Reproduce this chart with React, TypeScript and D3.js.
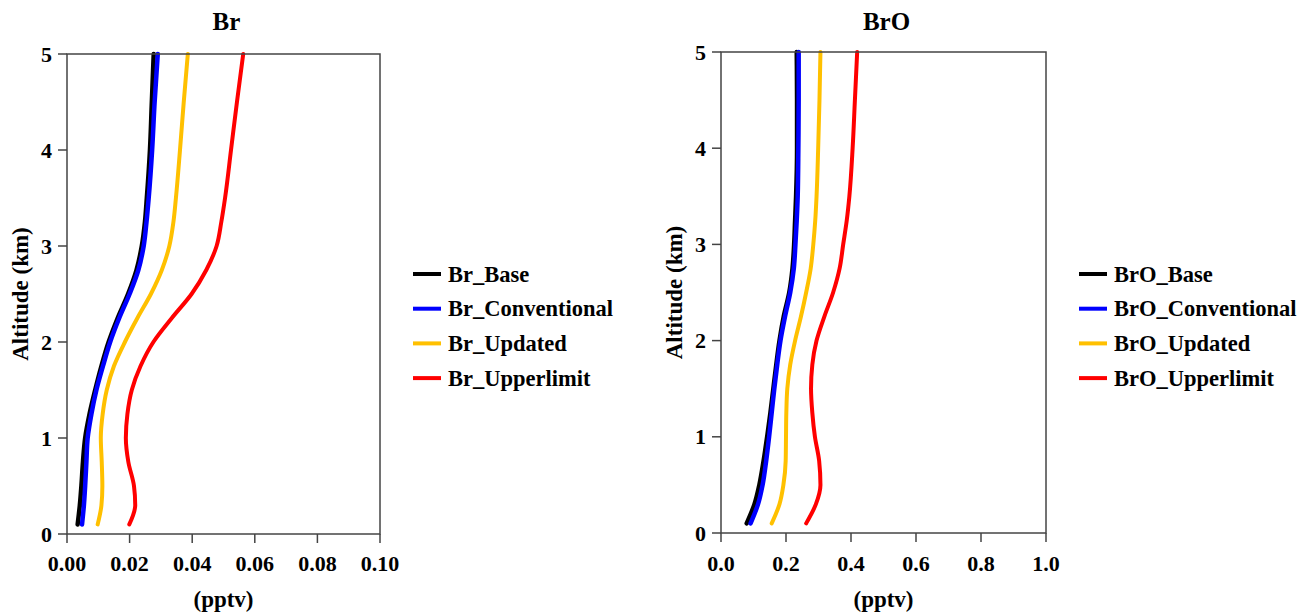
import React from 'react';
import * as d3 from 'd3';

// altitude grid (km) shared by all profiles
const altitude = [0.1, 0.3, 0.5, 0.75, 1.0, 1.25, 1.5, 1.75, 2.0, 2.25, 2.5, 2.75, 3.0, 3.25, 3.5, 4.0, 4.5, 5.0];

// Br (pptv)
const brBase = [0.0034, 0.0041, 0.0046, 0.0051, 0.0058, 0.0072, 0.009, 0.011, 0.0133, 0.0162, 0.0195, 0.0222, 0.0239, 0.0249, 0.0255, 0.0265, 0.0271, 0.0277];
const brConventional = [0.0048, 0.0054, 0.0058, 0.0062, 0.0066, 0.0078, 0.0094, 0.0115, 0.0138, 0.0167, 0.02, 0.0228, 0.0245, 0.0254, 0.0261, 0.0272, 0.028, 0.029];
const brUpdated = [0.0098, 0.011, 0.0113, 0.0111, 0.0108, 0.0114, 0.0127, 0.015, 0.0185, 0.0225, 0.0268, 0.0303, 0.0327, 0.034, 0.0348, 0.0361, 0.0373, 0.0386];
const brUpperlimit = [0.0199, 0.0218, 0.0214, 0.0196, 0.0188, 0.0193, 0.0207, 0.0235, 0.0276, 0.0335, 0.0398, 0.0445, 0.0478, 0.0493, 0.0505, 0.0524, 0.0543, 0.0563];

// BrO (pptv)
const broBase = [0.079, 0.103, 0.118, 0.131, 0.142, 0.152, 0.161, 0.17, 0.18, 0.193, 0.21, 0.22, 0.225, 0.228, 0.231, 0.234, 0.234, 0.233];
const broConventional = [0.091, 0.114, 0.128, 0.139, 0.148, 0.156, 0.164, 0.173, 0.183, 0.197, 0.213, 0.224, 0.229, 0.233, 0.236, 0.238, 0.239, 0.239];
const broUpdated = [0.156, 0.18, 0.192, 0.199, 0.2, 0.201, 0.204, 0.213, 0.228, 0.246, 0.262, 0.276, 0.284, 0.29, 0.294, 0.299, 0.303, 0.306];
const broUpperlimit = [0.262, 0.292, 0.306, 0.302, 0.289, 0.281, 0.277, 0.281, 0.294, 0.318, 0.345, 0.365, 0.376, 0.387, 0.395, 0.405, 0.412, 0.419];

const brTicks = [0, 0.02, 0.04, 0.06, 0.08, 0.1];
const broTicks = [0, 0.2, 0.4, 0.6, 0.8, 1.0];
const altTicks = [0, 1, 2, 3, 4, 5];

const seriesStyle = [
  { suffix: '_Base', color: '#000000', width: 4.5 },
  { suffix: '_Conventional', color: '#0000ff', width: 4.5 },
  { suffix: '_Updated', color: '#ffc000', width: 4 },
  { suffix: '_Upperlimit', color: '#ff0000', width: 4 },
];

const FONT = '"Liberation Serif", "Times New Roman", serif';
const AXIS = '#444';

const Panel = ({ title, values, xMax, ticks, fmt, left, right, top, bottom, legendX }) => {
  const x = d3.scaleLinear().domain([0, xMax]).range([left, right]);
  const y = d3.scaleLinear().domain([0, 5]).range([bottom, top]);
  const line = d3.line<number>()
    .x(d => x(d))
    .y((d, i) => y(altitude[i]))
    .curve(d3.curveMonotoneY);
  const cx = (left + right) / 2;
  const cy = (top + bottom) / 2;

  return (
    <g fontFamily={FONT} fontWeight="bold" fill="#000">
      <text x={cx + 3} y={30} fontSize={25} textAnchor="middle">{title}</text>

      {values.map((v, i) => (
        <path key={i} d={line(v)} fill="none" stroke={seriesStyle[i].color}
          strokeWidth={seriesStyle[i].width} strokeLinecap="round" />
      ))}

      <rect x={left} y={top} width={right - left} height={bottom - top}
        fill="none" stroke={AXIS} strokeWidth={1.5} />

      {ticks.map(t => (
        <g key={t}>
          <line x1={x(t)} x2={x(t)} y1={bottom} y2={bottom + 9} stroke={AXIS} strokeWidth={1.5} />
          <text x={x(t)} y={571} fontSize={22} textAnchor="middle">{fmt(t)}</text>
        </g>
      ))}
      {altTicks.map(t => (
        <g key={t}>
          <line x1={left - 9} x2={left} y1={y(t)} y2={y(t)} stroke={AXIS} strokeWidth={1.5} />
          <text x={left - 15} y={y(t)} fontSize={22} textAnchor="end" dominantBaseline="central">{t}</text>
        </g>
      ))}

      <text x={cx} y={607} fontSize={23} textAnchor="middle">(pptv)</text>
      <text transform={`translate(${left - 39},${cy}) rotate(-90)`} fontSize={23} textAnchor="middle">Altitude (km)</text>

      {seriesStyle.map((s, i) => (
        <g key={s.suffix} transform={`translate(${legendX},${274 + i * 34.7})`}>
          <line x1={0} x2={28} y1={0} y2={0} stroke={s.color} strokeWidth={4} />
          <text x={35} y={0} fontSize={22.5} dominantBaseline="central">{title + s.suffix}</text>
        </g>
      ))}
    </g>
  );
};

export default function App() {
  return (
    <svg width={1314} height={616} style={{ position: 'absolute', left: 0, top: 0, background: '#fff' }}>
      <Panel title="Br" values={[brBase, brConventional, brUpdated, brUpperlimit]} xMax={0.1}
        ticks={brTicks} fmt={d3.format('.2f')} left={67} right={380} top={54} bottom={534} legendX={413} />
      <Panel title="BrO" values={[broBase, broConventional, broUpdated, broUpperlimit]} xMax={1.0}
        ticks={broTicks} fmt={d3.format('.1f')} left={721} right={1046} top={52} bottom={533} legendX={1079} />
    </svg>
  );
}
